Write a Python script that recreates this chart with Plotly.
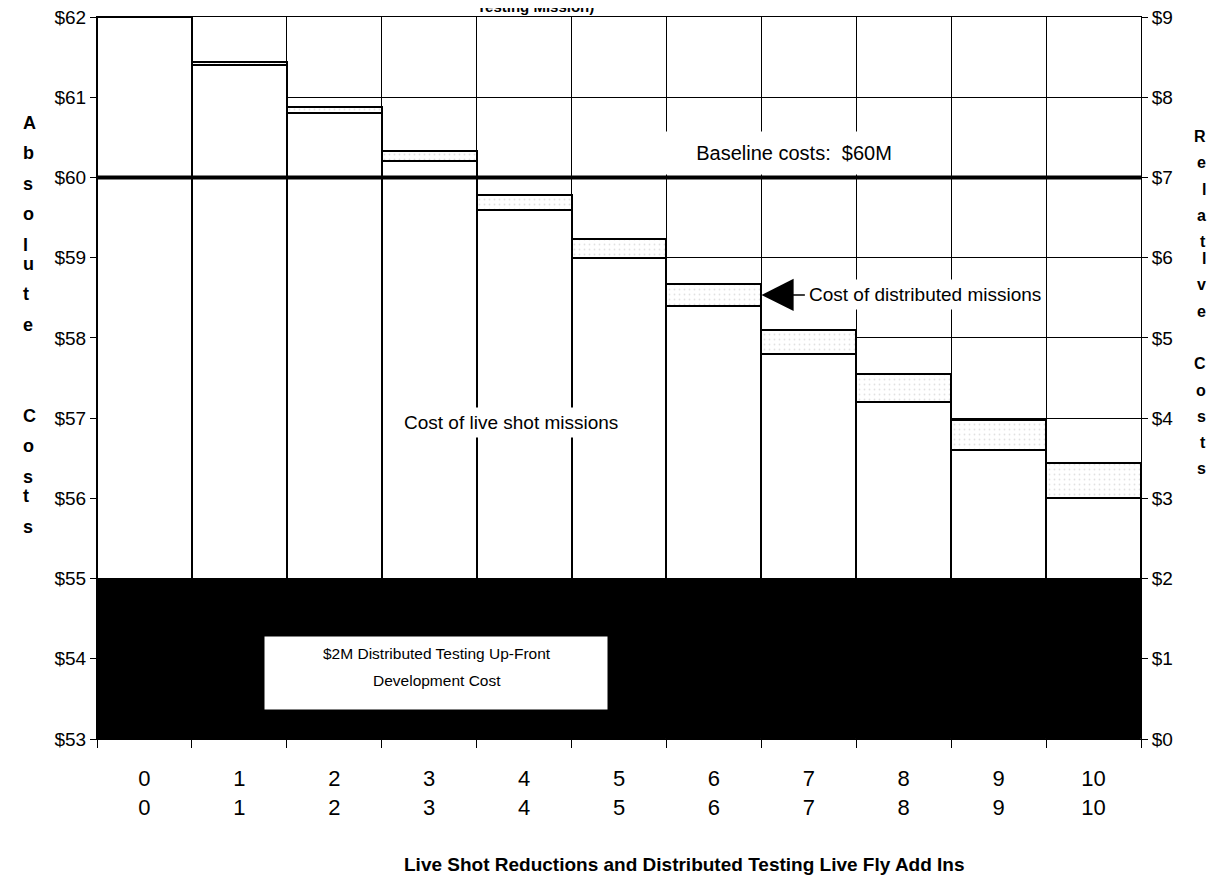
import plotly.graph_objects as go

# ---------------- data ----------------
steps = list(range(11))
x_labels = [f"{s}<br>{s}" for s in steps]
dev_cost = [2.0] * 11                                   # $2M distributed testing up-front cost
live_cost = [7.0, 6.4, 5.8, 5.2, 4.6, 4.0, 3.4, 2.8, 2.2, 1.6, 1.0]   # live shot missions
dist_cost = [0.0, 0.04, 0.08, 0.13, 0.18, 0.23, 0.27, 0.30, 0.35, 0.38, 0.44]  # distributed missions
axis_floor = 53
baseline_cost = 60
left_title = list("Absolute") + ["", ""] + list("Costs")
right_title = list("Relatlve") + [""] + list("Costs")
dev_text = ["$2M Distributed Testing Up-Front", "Development Cost"]

FONT = "Liberation Sans, Arial, sans-serif"

live_base = [axis_floor + d for d in dev_cost]
dist_base = [b + l for b, l in zip(live_base, live_cost)]

fig = go.Figure()
fig.add_trace(go.Bar(x=x_labels, y=dev_cost, base=[axis_floor] * 11,
                     marker=dict(color="black", line=dict(color="black", width=1)),
                     hoverinfo="skip", showlegend=False))
fig.add_trace(go.Bar(x=x_labels, y=live_cost, base=live_base,
                     marker=dict(color="white", line=dict(color="black", width=2)),
                     showlegend=False))
fig.add_trace(go.Bar(x=x_labels, y=dist_cost, base=dist_base,
                     marker=dict(color="white", line=dict(color="black", width=2),
                                 pattern=dict(shape=".", fgcolor="#c4c4c4", bgcolor="white",
                                              size=5, solidity=0.1)),
                     showlegend=False))
# invisible trace on the relative axis
fig.add_trace(go.Scatter(x=x_labels, y=[d + l + c for d, l, c in zip(dev_cost, live_cost, dist_cost)],
                         yaxis="y2", mode="lines", line=dict(width=0, color="rgba(0,0,0,0)"),
                         hoverinfo="skip", showlegend=False))

OFF = 8  # page body margin
W, H = 1221 - OFF, 895 - OFF
L, R, T, B = 97 - OFF, 80, 17 - OFF, 156
pw, ph = W - L - R, H - T - B


def px2paper_y(p):
    return (H - B - (p - OFF)) / ph


def px2paper_x(p):
    return (p - OFF - L) / pw


def px2cat(p):
    return (p - OFF - L) / (pw / 11) - 0.5


def px2y(p):
    return 62 - (p - OFF - T) * 9 / ph


annotations = []
for i, ch in enumerate(left_title):
    if ch:
        annotations.append(dict(text=f"<b>{ch}</b>", xref="paper", yref="paper",
                                x=px2paper_x(22), y=px2paper_y(112 + 30.4 * i), borderpad=0,
                                showarrow=False, font=dict(family=FONT, size=18, color="black")))
for i, ch in enumerate(right_title):
    if ch:
        annotations.append(dict(text=f"<b>{ch}</b>", xref="paper", yref="paper",
                                x=px2paper_x(1207), y=px2paper_y(127 + 26.3 * i), borderpad=0,
                                showarrow=False, font=dict(family=FONT, size=16, color="black")))

annotations += [
    dict(text="<b>Testing Mission)</b>", xref="paper", yref="paper",
         x=px2paper_x(535), y=px2paper_y(17), yanchor="bottom", showarrow=False,
         font=dict(family=FONT, size=15, color="black")),
    dict(text="<b>Live Shot Reductions and Distributed Testing Live Fly Add Ins</b>",
         xref="paper", yref="paper", x=px2paper_x(684), y=px2paper_y(877),
         showarrow=False, font=dict(family=FONT, size=19, color="black")),
    dict(text=f"Baseline costs:  ${baseline_cost}M", xref="paper", yref="y",
         x=px2paper_x(929), y=px2y(153), showarrow=False, bgcolor="white",
         width=266, height=40, font=dict(family=FONT, size=20, color="black")),
    dict(text="Cost of distributed missions", xref="x", yref="y",
         x=6.5, y=dist_base[6] + dist_cost[6] / 2, ax=164, ay=0,
         showarrow=True, arrowhead=2, arrowsize=4.3, arrowwidth=1.5, arrowcolor="black",
         bgcolor="white", borderpad=4, font=dict(family=FONT, size=19, color="black")),
    dict(text="Cost of live shot missions", xref="x", yref="y",
         x=px2cat(511), y=px2y(422), showarrow=False, bgcolor="white", borderpad=4,
         font=dict(family=FONT, size=19, color="black")),
    dict(text=" ", xref="x", yref="y",
         x=px2cat(436), y=px2y(673), showarrow=False, bgcolor="white",
         width=340, height=70, borderpad=1, font=dict(family=FONT, size=10)),
    dict(text=dev_text[0], xref="x", yref="y", x=px2cat(437), y=px2y(653),
         showarrow=False, font=dict(family=FONT, size=15.5, color="black")),
    dict(text=dev_text[1], xref="x", yref="y", x=px2cat(437), y=px2y(680),
         showarrow=False, font=dict(family=FONT, size=15.5, color="black")),
]

fig.update_layout(
    width=W, height=H,
    margin=dict(l=L, r=R, t=T, b=B, pad=0, autoexpand=False),
    paper_bgcolor="white", plot_bgcolor="white",
    barmode="overlay", bargap=0,
    xaxis=dict(type="category", tickson="boundaries", ticks="outside", ticklen=8,
               tickcolor="black", showgrid=True, gridcolor="black", gridwidth=1,
               showline=True, linecolor="black", linewidth=1, mirror=True,
               range=[-0.5, 10.5], ticklabelstandoff=20, automargin=False,
               tickfont=dict(family=FONT, size=22, color="black")),
    yaxis=dict(range=[axis_floor, 62], dtick=1, tickprefix="$", ticks="outside", ticklen=6,
               tickcolor="black", showgrid=True, gridcolor="black", gridwidth=1,
               showline=True, linecolor="black", linewidth=1, zeroline=False, automargin=False,
               ticklabeloverflow="allow",
               tickfont=dict(family=FONT, size=19, color="black")),
    yaxis2=dict(overlaying="y", side="right", range=[0, 62 - axis_floor], dtick=1,
                tickprefix="$", ticks="outside", ticklen=6, tickcolor="black", automargin=False,
                showgrid=False, showline=True, linecolor="black", linewidth=1, zeroline=False,
                ticklabeloverflow="allow",
                tickfont=dict(family=FONT, size=19, color="black")),
    shapes=[dict(type="line", xref="paper", yref="y", x0=0, x1=1,
                 y0=baseline_cost, y1=baseline_cost, line=dict(color="black", width=4),
                 layer="above")],
    annotations=annotations,
)

fig.write_html("out.html")
